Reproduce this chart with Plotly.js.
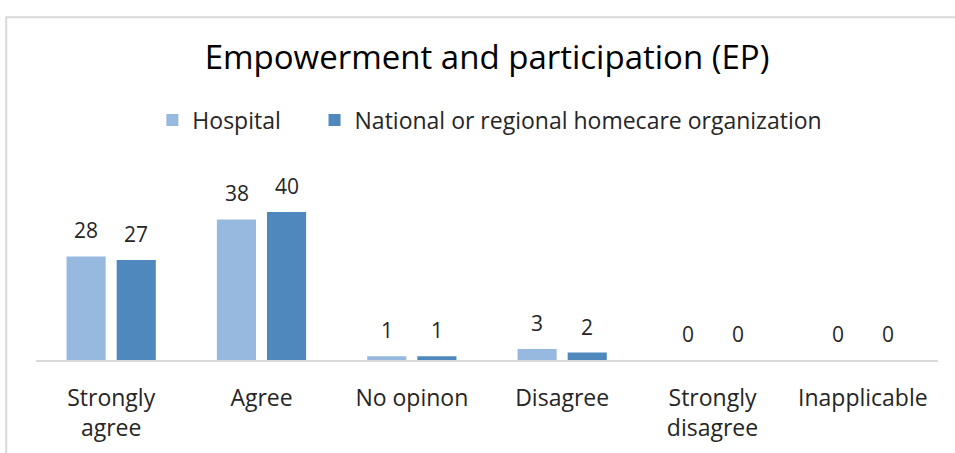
<!DOCTYPE html>
<html><head><meta charset="utf-8">
<script src="https://cdn.plot.ly/plotly-3.0.1.min.js"></script>
<style>html,body{margin:0;padding:0;background:#fff}#chart{width:955px;height:453px}</style>
</head><body><div id="chart"></div>
<script>
const categories = ["Strongly<br>agree", "Agree", "No opinon", "Disagree", "Strongly<br>disagree", "Inapplicable"];
const hospital = [28, 38, 1, 3, 0, 0];
const national = [27, 40, 1, 2, 0, 0];
const seriesNames = ["Hospital", "National or regional homecare organization"];
const colors = ["#97B9E0", "#4E88BC"];

const font = "'Open Sans', sans-serif";
const traces = [
  {type: "bar", name: seriesNames[0], x: categories, y: hospital, marker: {color: colors[0]}, textposition: "none", legend: "legend"},
  {type: "bar", name: seriesNames[1], x: categories, y: national, marker: {color: colors[1]}, textposition: "none", legend: "legend2"}
];
const annotations = [];
[hospital, national].forEach((vals, si) => {
  vals.forEach((v, i) => {
    annotations.push({x: categories[i], y: v, xref: "x", yref: "y", text: String(v), showarrow: false,
      xshift: si === 0 ? -25 : 25, yshift: 26, yanchor: "middle",
      font: {size: 21, color: "#262626", family: font}});
  });
});
const legendFont = {size: 23, color: "#262626", family: font};
const layout = {
  width: 955, height: 453,
  margin: {l: 36, r: 17, t: 170, b: 93},
  paper_bgcolor: "#fff", plot_bgcolor: "#fff",
  font: {family: font, color: "#262626"},
  title: {text: "Empowerment and participation (EP)", font: {size: 33, color: "#000", family: font},
          x: 0.51, xanchor: "center", y: 0.874, yanchor: "middle"},
  showlegend: true,
  legend: {orientation: "h", x: 0.129, xanchor: "left", y: 1.263, yanchor: "middle", font: legendFont},
  legend2: {orientation: "h", x: 0.3088, xanchor: "left", y: 1.263, yanchor: "middle", font: legendFont},
  barmode: "group", bargap: 0.333, bargroupgap: 0.22,
  xaxis: {showline: true, linecolor: "#D9D9D9", linewidth: 2, ticks: "outside", ticklen: 16, tickcolor: "rgba(0,0,0,0)",
          tickfont: {size: 23, color: "#262626", family: font}, showgrid: false, fixedrange: true},
  yaxis: {range: [0, 51.35], visible: false, showgrid: false, zeroline: false},
  annotations: annotations,
  shapes: [{type: "rect", xref: "paper", yref: "paper", x0: -0.033, x1: 1.2, y0: -0.6, y1: 1.804,
            line: {color: "#D9D9D9", width: 2}, fillcolor: "rgba(0,0,0,0)"}]
};
Plotly.newPlot("chart", traces, layout, {displayModeBar: false, staticPlot: true});
</script></body></html>
